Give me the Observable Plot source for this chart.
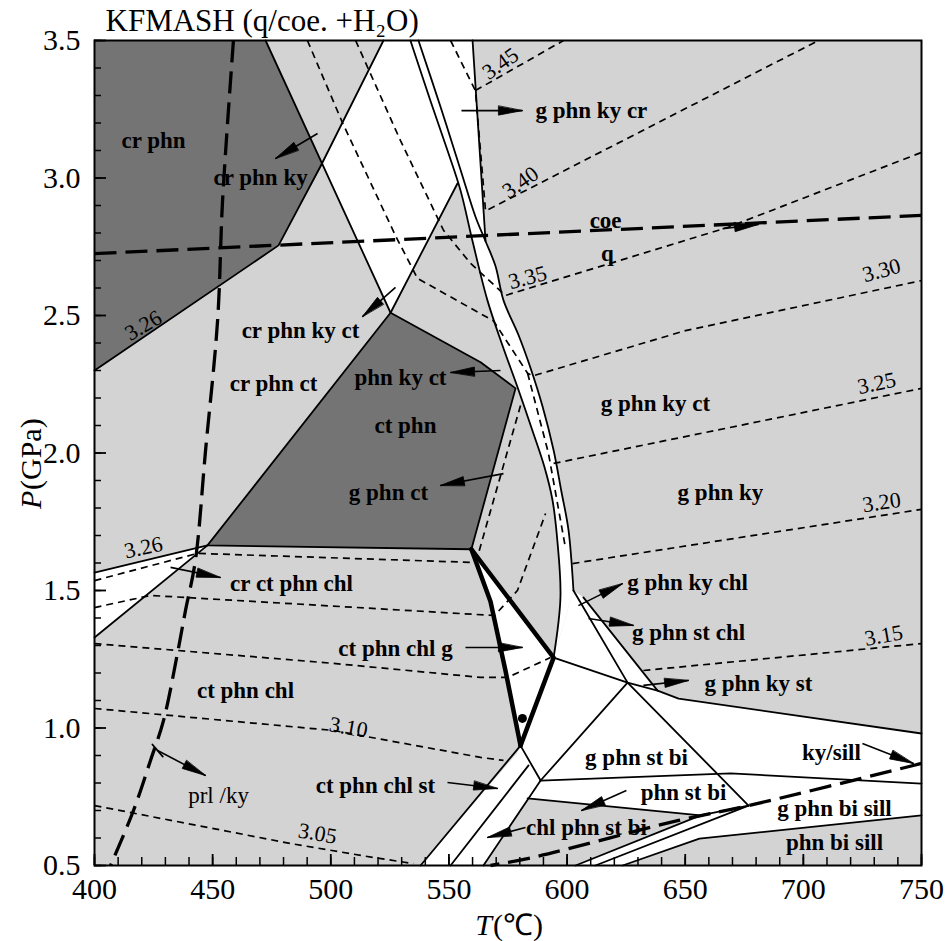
<!DOCTYPE html>
<html><head><meta charset="utf-8">
<script src="https://cdn.jsdelivr.net/npm/d3@7"></script>
<script src="https://cdn.jsdelivr.net/npm/@observablehq/plot@0.6"></script>
<style>body{margin:0;background:#fff}</style>
</head><body><div id="chart"></div>
<script>
// ---- axis ticks ----
const xTicks = [400,450,500,550,600,650,700,750];
const yTicks = [0.5,1.0,1.5,2.0,2.5,3.0,3.5];
const xMinorTicks = [400,410,420,430,440,450,460,470,480,490,500,510,520,530,540,550,560,570,580,590,600,610,620,630,640,650,660,670,680,690,700,710,720,730,740,750];
const yMinorTicks = [0.5,0.6,0.7,0.8,0.9,1.0,1.1,1.2,1.3,1.4,1.5,1.6,1.7,1.8,1.9,2.0,2.1,2.2,2.3,2.4,2.5,2.6,2.7,2.8,2.9,3.0,3.1,3.2,3.3,3.4,3.5];

// ---- field polygons [T (°C), P (GPa)] ----
const fieldCrPhn = [[400,3.5],[472.4,3.5],[496.5,3.05],[477.9,2.755],[400,2.30]];
const fieldCtPhn = [[525.3,2.51],[563.4,2.33],[578.2,2.235],[559.5,1.65],[447.8,1.664]];
const fieldUpperWhite = [[522.3,3.5],[560,3.5],[565.5,2.77],[569.7,2.68],[573.1,2.555],[579.4,2.43],[584.5,2.31],[589.6,2.17],[594.3,2.01],[597.6,1.86],[600.6,1.72],[602.7,1.5],[594.3,1.256],[597.2,1.475],[595.9,1.68],[593.8,1.83],[590.4,1.95],[585.4,2.08],[579.0,2.24],[572.7,2.39],[566.3,2.555],[560,2.77],[554.9,2.955],[553.6,2.98],[525.3,2.51],[496.1,3.05]];
const fieldWedgeWhite = [[400,1.565],[447.8,1.664],[400,1.329]];
const fieldVWhite = [[559.5,1.65],[594.3,1.256],[580.3,0.936],[573.9,1.21],[567.6,1.46]];
const fieldLowerWhite = [[580.3,0.936],[594.3,1.256],[602.7,1.5],[606.9,1.475],[638.3,1.136],[647.2,1.107],[750,0.98],[750,0.682],[656,0.598],[623.5,0.5],[538,0.5],[579,0.911]];
const fieldChlPhnStBi = [[583.3,0.744],[656.5,0.682],[603.6,0.5],[564.6,0.5]];

// ---- solid boundaries ----
const lineL1 = [[472.4,3.5],[525.3,2.51]];
const lineL2 = [[522.3,3.5],[496.1,3.05],[477.9,2.755],[400,2.3]];
const lineL3 = [[525.3,2.51],[553.6,2.98]];
const lineVert = [[560,3.5],[565.5,2.77]];
const lineWedgeTop = [[400,1.565],[447.8,1.664]];
const lineWedgeBot = [[400,1.329],[447.8,1.664]];
const lineStBiTop = [[594.3,1.256],[625.6,1.165],[638.3,1.136],[647.2,1.107],[750,0.98]];
const lineA = [[602.7,1.5],[625.6,1.165]];
const lineB = [[606.9,1.475],[638.3,1.136]];
const lineTriRight = [[625.6,1.165],[676.8,0.718]];
const lineTriLeft = [[625.6,1.165],[588.8,0.809]];
const lineBiBottom = [[588.8,0.809],[669.2,0.835],[750,0.798]];
const lineVtoSt = [[580.3,0.936],[588.8,0.809]];
const lineBandL = [[580.3,0.936],[538,0.5]];
const lineBandM = [[583.7,0.864],[550.7,0.5]];
const lineBandR = [[588.8,0.809],[564.6,0.5]];
const lineChlTop = [[583.3,0.744],[656.5,0.682],[676.8,0.718]];
const lineChlRight = [[603.6,0.5],[656.5,0.682]];
const lineStrip = [[612,0.5],[676.8,0.718]];
const lineSillTop = [[623.5,0.5],[656,0.598],[750,0.682]];
const linePrlTail = [[424.5,0.94],[428.9,0.896]];
const curveBandLeft = [[533.7,3.5],[542.2,3.28],[549.4,3.10],[554.9,2.955],[560,2.77],[566.3,2.555],[572.7,2.39],[579.0,2.24],[585.4,2.08],[590.4,1.95],[593.8,1.83],[595.9,1.68],[597.2,1.475],[594.3,1.256]];
const curveBandRight = [[537.1,3.5],[546.4,3.26],[554.9,3.03],[561.2,2.86],[565.5,2.77],[569.7,2.68],[573.1,2.555],[579.4,2.43],[584.5,2.31],[589.6,2.17],[594.3,2.01],[597.6,1.86],[600.6,1.72],[602.7,1.5]];
const thickLeft = [[559.5,1.65],[567.6,1.46],[573.9,1.21],[580.3,0.936]];
const thickRight = [[559.5,1.65],[594.3,1.256],[580.3,0.936]];

// ---- thin dashed isopleths / reactions ----
const dashA = [[490.1,3.5],[505,3.2],[527.4,2.79],[536.7,2.635],[568.9,2.48],[583.3,2.29],[585.4,2.28],[650.1,2.445],[750,2.627]];
const dashBandInner = [[583.3,2.29],[592.1,2.0],[599.3,1.656]];
const dashB = [[510.5,3.5],[529.5,3.136],[547.7,2.81],[559.1,2.69],[573.9,2.573],[667.9,2.82],[750,3.093]];
const dashC = [[550.7,3.5],[561.2,3.318],[565.5,2.88],[706.4,3.5]];
const dash345 = [[561.2,3.318],[598.5,3.5]];
const dash325 = [[594.3,1.962],[750,2.235]];
const dash320 = [[602.3,1.598],[750,1.795]];
const dash315 = [[632.3,1.209],[750,1.307]];
const dashLeft1 = [[400,1.536],[443.6,1.635],[560.4,1.602]];
const dashLeft2 = [[400,1.438],[423.7,1.482],[569.3,1.409],[579,1.5],[590.9,1.78]];
const dashLeft3 = [[400,1.307],[501.1,1.235],[563.4,1.184],[574.8,1.184],[593.0,1.256]];
const dash310 = [[400,1.071],[501.1,0.991],[563.4,0.893],[573.1,0.882]];
const dash305 = [[400,0.718],[482.9,0.58],[518.1,0.529],[535,0.507]];
const dashCtEdge = [[580.3,2.173],[562.5,1.635]];

// ---- heavy dashed reactions ----
const heavyCoeQ = [[400,2.725],[750,2.864]];
const heavyPrlKy = [[458.8,3.5],[454.2,2.918],[452.1,2.482],[447,2.009],[442.7,1.609],[438.5,1.427],[435.1,1.271],[429.2,1.027],[423.7,0.882],[416.5,0.70],[406.8,0.5]];
const heavyKySill = [[750,0.871],[676.8,0.718],[647.2,0.664],[585.4,0.529],[567.6,0.5]];

// ---- pointer arrows [T0,P0,T1,P1] (head at T1,P1) ----
const pointerArrows = [
  [494.4,3.162,476.6,3.071],[527.4,2.602,513.4,2.496],[571.8,2.30,550.7,2.293],
  [573.1,1.925,546.4,1.882],[555.3,3.245,581.1,3.245],[665.8,2.816,681.0,2.831],
  [432.2,1.584,453.3,1.547],[557.0,1.293,581.1,1.293],[604.8,1.445,623.5,1.525],
  [609.1,1.398,628.1,1.373],[632.3,1.155,651.4,1.173],[725.0,0.944,746.6,0.871],
  [625.1,0.773,606.1,0.70],[582.4,0.638,566.3,0.602],[549.4,0.802,570.6,0.780],
  [426.7,0.918,447.0,0.827]
];
const markerDot = [[581.1,1.035]];

// ---- labels ----
const fieldNames = ["cr phn","cr phn ky","cr phn ky ct","cr phn ct","phn ky ct","ct phn","g phn ct","g phn ky cr","coe","q","g phn ky ct","g phn ky","cr ct phn chl","g phn ky chl","g phn st chl","ct phn chl g","ct phn chl","g phn ky st","g phn st bi","ky/sill","ct phn chl st","phn st bi","g phn bi sill","chl phn st bi","phn bi sill"];
const fieldNameT = [425.0,470.3,487.2,475.8,529.5,531.6,524.4,610.3,616.3,617.1,637.4,664.9,483.4,651.0,651.4,527.4,463.9,681.0,629.4,711.9,518.9,649.3,713.2,608.2,713.2];
const fieldNameP = [3.136,3.002,2.445,2.253,2.275,2.10,1.856,3.245,2.845,2.725,2.18,1.856,1.525,1.529,1.347,1.289,1.136,1.162,0.893,0.911,0.791,0.765,0.707,0.638,0.584];
const plainNames = ["prl /ky"];
const plainNameT = [452.5];
const plainNameP = [0.755];
const isoText = ["3.45","3.40","3.35","3.30","3.25","3.20","3.15","3.26","3.26","3.10","3.05"];
const isoT = [571.8,580.3,583.3,733.1,731.0,733.1,734.0,420.7,420.7,507.5,494.4];
const isoP = [3.416,2.984,2.638,2.664,2.253,1.82,1.336,2.464,1.656,1.002,0.616];
const isoAngle = [-35,-35,-15,-15,-12,-8,-10,-30,-12,10,10];
const titleText = "KFMASH (q/coe. +H\u2082O)";

// ---- build ----
const W = 945, H = 941, ML = 94, MR = 24, MT = 40, MB = 76;
const FW = W - ML - MR, FH = H - MT - MB;
const KX = FW / 350, KY = FH / 3;
const LIGHT = "#d3d3d3", DARK = "#747474";
const rows = (id, pts) => pts.map(([x, y]) => ({id, x, y}));
const group = (obj) => Object.entries(obj).flatMap(([k, v]) => rows(k, v));

const whiteRows = group({fieldUpperWhite, fieldWedgeWhite, fieldVWhite, fieldLowerWhite});
const darkRows = group({fieldCrPhn, fieldCtPhn});
const grayRows = group({fieldChlPhnStBi});
const solidRows = group({lineL1, lineL2, lineL3, lineVert, lineWedgeTop, lineWedgeBot, lineStBiTop, lineA, lineB,
  lineTriRight, lineTriLeft, lineBiBottom, lineVtoSt, lineBandL, lineBandM, lineBandR, lineChlTop, lineChlRight,
  lineStrip, lineSillTop, linePrlTail, lineCtPhn: [...fieldCtPhn, fieldCtPhn[0]]});
const smoothRows = group({curveBandLeft, curveBandRight});
const thickRows = group({thickLeft, thickRight});
const thinDashRows = group({dashA, dashBandInner, dashB, dashC, dash345, dash325, dash320, dash315,
  dashLeft1, dashLeft2, dashLeft3, dash310, dash305, dashCtEdge});
const heavyDashRows = group({heavyCoeQ, heavyPrlKy, heavyKySill});

function headPts([t0, p0, t1, p1], len = 24, half = 4.5) {
  const dx = (t1 - t0) * KX, dy = -(p1 - p0) * KY;
  const L = Math.hypot(dx, dy), ux = dx / L, uy = dy / L;
  const bx = -ux * len, by = -uy * len, px = -uy * half, py = ux * half;
  return [[0, 0], [bx + px, by + py], [bx - px, by - py]].map(([sx, sy]) => [t1 + sx / KX, p1 - sy / KY]);
}
const headRows = pointerArrows.flatMap((a, i) => rows("h" + i, headPts(a)));
const arrowRows = pointerArrows.map(([x1, y1, x2, y2]) => ({x1, y1, x2, y2}));

const fieldLabelRows = fieldNames.map((t, i) => ({t, x: fieldNameT[i], y: fieldNameP[i]}));
const plainLabelRows = plainNames.map((t, i) => ({t, x: plainNameT[i], y: plainNameP[i]}));
const isoRows = isoText.map((t, i) => ({t, x: isoT[i], y: isoP[i], r: isoAngle[i]}));

const SERIF = "'Liberation Serif','Times New Roman',serif";
const poly = {x: "x", y: "y", z: "id", curve: "linear-closed", stroke: "none"};
const path = {x: "x", y: "y", z: "id", stroke: "black", fill: "none"};

const chart = Plot.plot({
  width: W, height: H,
  marginLeft: ML, marginRight: MR, marginTop: MT, marginBottom: MB,
  x: {domain: [400, 750], label: null},
  y: {domain: [0.5, 3.5], label: null},
  style: {fontFamily: SERIF, background: "white", color: "black", overflow: "visible"},
  marks: [
    Plot.frame({fill: LIGHT, stroke: "none"}),
    Plot.line(whiteRows, {...poly, fill: "white"}),
    Plot.line(darkRows, {...poly, fill: DARK}),
    Plot.line(grayRows, {...poly, fill: LIGHT}),
    Plot.line(thinDashRows, {...path, strokeWidth: 1.7, strokeDasharray: "7,5", strokeLinecap: "butt"}),
    Plot.line(heavyDashRows, {...path, curve: "catmull-rom", strokeWidth: 3.3, strokeDasharray: "22,9", strokeLinecap: "butt"}),
    Plot.line(solidRows, {...path, strokeWidth: 1.8}),
    Plot.line(smoothRows, {...path, curve: "catmull-rom", strokeWidth: 1.8}),
    Plot.line(thickRows, {...path, strokeWidth: 4.5}),
    Plot.dot(markerDot, {x: d => d[0], y: d => d[1], r: 4.5, fill: "black", stroke: "none"}),
    Plot.link(arrowRows, {x1: "x1", y1: "y1", x2: "x2", y2: "y2", stroke: "black", strokeWidth: 1.6}),
    Plot.line(headRows, {...poly, fill: "black", stroke: "black", strokeWidth: 0.8}),
    Plot.text(fieldLabelRows, {x: "x", y: "y", text: "t", fontSize: 23, fontWeight: "bold", fontFamily: SERIF, fill: "black"}),
    Plot.text(plainLabelRows, {x: "x", y: "y", text: "t", fontSize: 23, fontFamily: SERIF, fill: "black"}),
    Plot.text(isoRows, {x: "x", y: "y", text: "t", rotate: "r", fontSize: 22, fontFamily: SERIF, fill: "black"}),
    Plot.tickX(xMinorTicks, {x: d => d, insetTop: FH - 8, stroke: "black", strokeWidth: 1.5}),
    Plot.tickX(xTicks, {x: d => d, insetTop: FH - 11, stroke: "black", strokeWidth: 1.8}),
    Plot.tickY(yMinorTicks, {y: d => d, insetRight: FW - 7, stroke: "black", strokeWidth: 1.5}),
    Plot.tickY(yTicks, {y: d => d, insetRight: FW - 12, stroke: "black", strokeWidth: 1.8}),
    Plot.frame({stroke: "black", strokeWidth: 2}),
    Plot.axisX({ticks: xTicks, tickSize: 0, tickPadding: 12, fontSize: 30, fontFamily: SERIF, tickFormat: d => String(d)}),
    Plot.axisY({ticks: yTicks, tickSize: 0, tickPadding: 14, fontSize: 30, fontFamily: SERIF, tickFormat: d3.format(".1f")}),
    Plot.text([titleText], {frameAnchor: "top-left", text: d => d, textAnchor: "start", lineAnchor: "middle", dx: 11, dy: -19, fontSize: 31, fontFamily: SERIF}),
    Plot.text(["T"], {frameAnchor: "bottom", text: d => d, textAnchor: "end", lineAnchor: "middle", dx: -16, dy: 60, fontSize: 30, fontStyle: "italic", fontFamily: SERIF}),
    Plot.text(["(\u2103)"], {frameAnchor: "bottom", text: d => d, textAnchor: "start", lineAnchor: "middle", dx: -15, dy: 60, fontSize: 30, fontFamily: SERIF}),
    Plot.text(["P"], {frameAnchor: "left", text: d => d, textAnchor: "start", lineAnchor: "middle", rotate: -90, dx: -63, dy: 56, fontSize: 30, fontStyle: "italic", fontFamily: SERIF}),
    Plot.text(["(GPa)"], {frameAnchor: "left", text: d => d, textAnchor: "start", lineAnchor: "middle", rotate: -90, dx: -63, dy: 37, fontSize: 30, fontFamily: SERIF})
  ]
});
document.getElementById("chart").appendChild(chart);
</script>
</body></html>
